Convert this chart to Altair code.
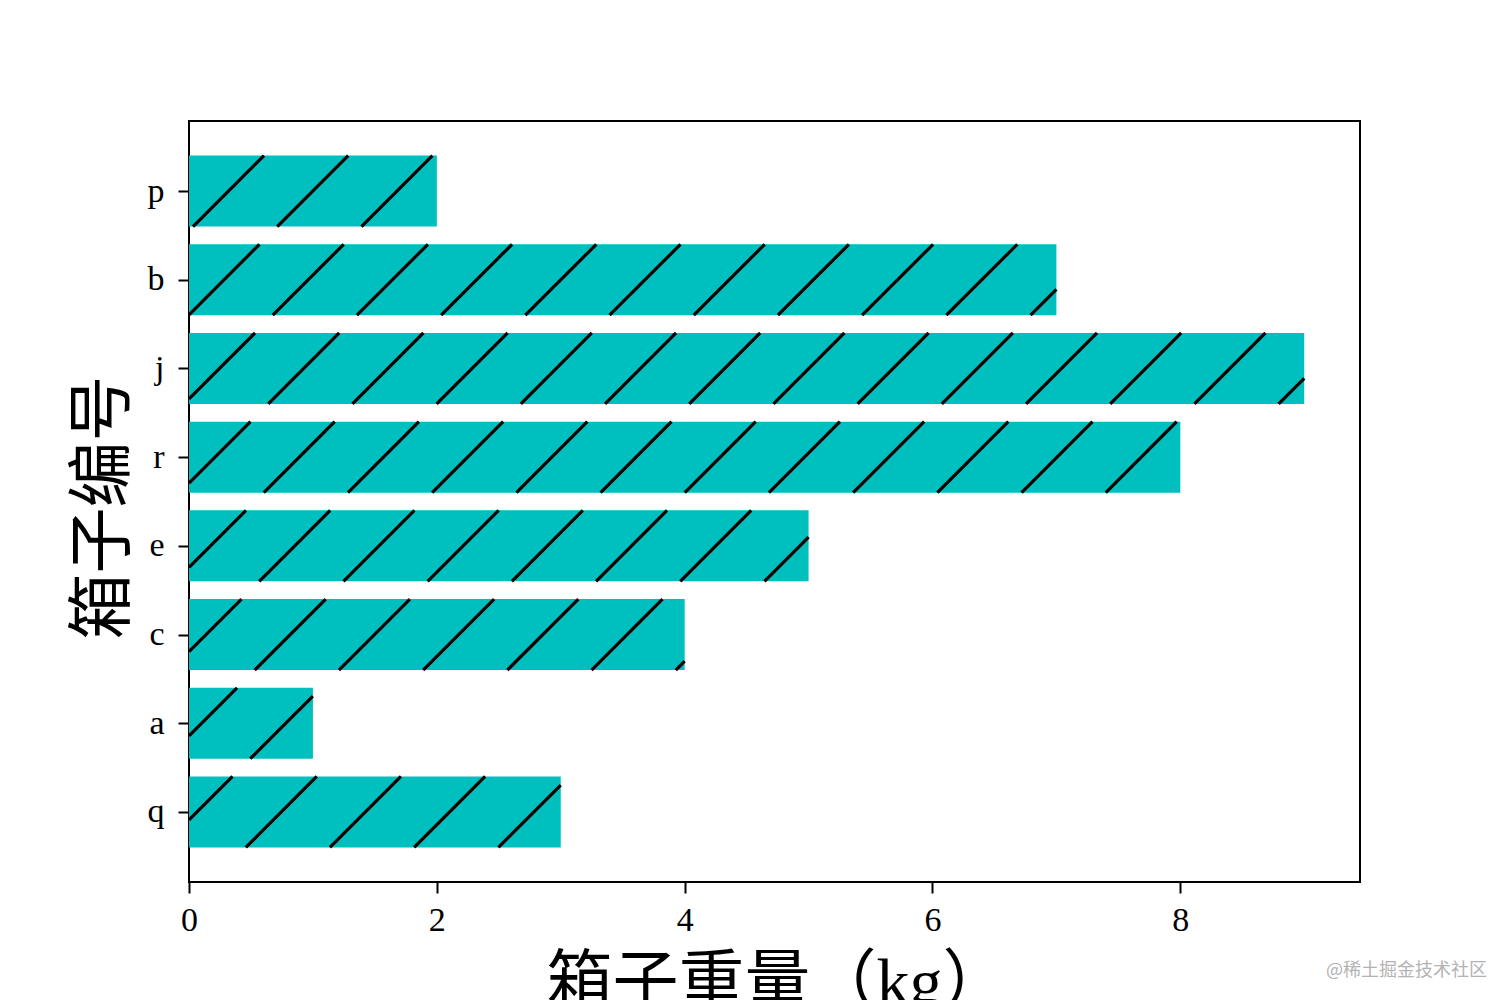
import json
import math
import altair as alt
import pandas as pd

# ---- data ----
boxes = ["q", "a", "c", "e", "r", "j", "b", "p"]
weights = [3, 1, 4, 5, 8, 9, 7, 2]
x_ticks = [0, 2, 4, 6, 8]
x_title = "箱子重量（kg）"
y_title = "箱子编号"
watermark = "@稀土掘金技术社区"

# ---- layout / style constants ----
BAR_HEIGHT = 0.8
X_MAX = 9.45
Y_MIN, Y_MAX = -0.79, 7.79
W, H = 1171, 761
FILL = "#00BFBF"
HATCH_STEP = 0.6795   # spacing of hatch lines along x (data units)
HATCH_PHASE = 0.065
R = (H / (Y_MAX - Y_MIN)) / (W / X_MAX)   # makes hatch lines 45 degrees on screen

bars = pd.DataFrame({
    "box": boxes,
    "weight": weights,
    "pos": list(range(len(boxes))),
})

# hatch segments ('/' pattern) derived from the bar rectangles
segs = []
for i, v in enumerate(weights):
    y0, y1 = i - BAR_HEIGHT / 2, i + BAR_HEIGHT / 2
    kmin = math.ceil((-R * y1 - HATCH_PHASE) / HATCH_STEP)
    kmax = math.floor((v - R * y0 - HATCH_PHASE) / HATCH_STEP)
    for k in range(kmin, kmax + 1):
        c = HATCH_PHASE + k * HATCH_STEP
        ya = max(y0, -c / R)
        yb = min(y1, (v - c) / R)
        if yb - ya > 1e-6:
            segs.append({"x": c + R * ya, "y": ya, "x2": c + R * yb, "y2": yb})
hatch = pd.DataFrame(segs)

label_expr = json.dumps(boxes) + "[datum.value]"

xscale = alt.Scale(domain=[0, X_MAX], nice=False, zero=False)
yscale = alt.Scale(domain=[Y_MIN, Y_MAX], nice=False, zero=False)

base_bar = alt.Chart(bars).transform_calculate(
    y0="datum.pos - 0.4", y1="datum.pos + 0.4", x0="0"
)

rects = base_bar.mark_rect(color=FILL, strokeWidth=0).encode(
    x=alt.X("x0:Q", scale=xscale,
            axis=alt.Axis(values=x_ticks, format="d", labelFlush=False,
                          title=x_title, titleX=588, titleY=69,
                          titleAlign="center", titleBaseline="top",
                          labelPadding=10)),
    x2="weight:Q",
    y=alt.Y("y0:Q", scale=yscale,
            axis=alt.Axis(values=list(range(len(boxes))), labelExpr=label_expr,
                          labelFlush=False,
                          title=y_title, titleX=-86, titleY=386, titleAngle=270,
                          titleAlign="center", titleBaseline="middle",
                          labelPadding=14)),
    y2="y1:Q",
)

lines = alt.Chart(hatch).mark_rule(color="black", strokeWidth=3.2).encode(
    x=alt.X("x:Q", scale=xscale),
    x2="x2:Q",
    y=alt.Y("y:Q", scale=yscale),
    y2="y2:Q",
)

wm = alt.Chart(pd.DataFrame({"t": [watermark]})).mark_text(
    align="right", baseline="middle", fontSize=18, color="#b3b3b3",
    font="Noto Sans CJK SC"
).encode(x=alt.value(1298), y=alt.value(850), text="t:N")

chart = alt.layer(rects, lines, wm).properties(
    width=W, height=H,
    autosize=alt.AutoSizeParams(type="none"),
    padding={"left": 181, "top": 113, "right": 130, "bottom": 118},
    background="white",
).configure_view(
    stroke="black", strokeWidth=2
).configure_axis(
    domain=False, grid=False,
    ticks=True, tickColor="black", tickWidth=2, tickSize=11,
    labelFont="Liberation Serif", labelFontSize=34, labelColor="black",
    titleFont="Liberation Serif, Noto Sans CJK SC", titleFontSize=66,
    titleFontWeight="normal", titleColor="black",
)

chart.save("out.html", embed_options={"renderer": "svg", "actions": False})
